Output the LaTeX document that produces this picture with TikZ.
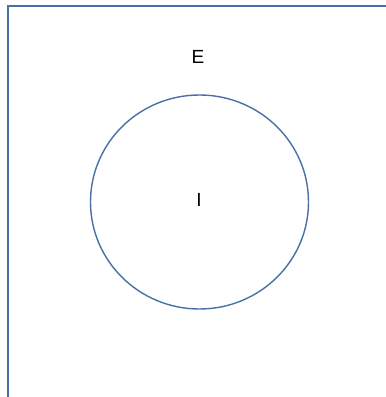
\documentclass[tikz,border=0pt]{standalone}
\usepackage{fontspec}
\usetikzlibrary{shapes.geometric}
\setmainfont{Liberation Sans}
\definecolor{lineblue}{HTML}{4A6FA5}
\begin{document}
\begin{tikzpicture}[x=1pt,y=-1pt,
  frameline/.style={draw=lineblue,line width=1.5pt},
  lbl/.style={font=\fontsize{19}{22}\selectfont,inner sep=0pt}]
\useasboundingbox (0,0) rectangle (386,397);
\fill[white] (0,0) rectangle (386,397);
\coordinate (bl) at (8,400);
\coordinate (tl) at (8,6);
\coordinate (tr) at (390,6);
\draw[frameline] (bl) -- (tl) -- (tr);
\node[draw=lineblue,line width=1.4pt,ellipse,minimum width=218pt,minimum height=214pt,inner sep=0pt] (I) at (199.5,202) {};
\node[lbl] (Il) at (199,200) {I};
\node[lbl] (E) at (198,57) {E};
\end{tikzpicture}
\end{document}
